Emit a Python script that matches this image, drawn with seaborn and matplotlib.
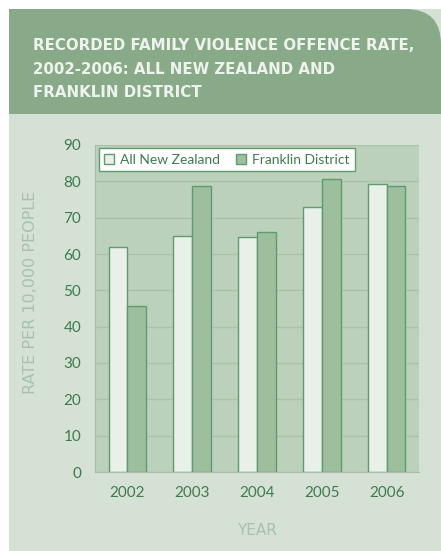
import matplotlib
matplotlib.use("Agg")
import matplotlib.pyplot as plt
from matplotlib.patches import FancyBboxPatch, Rectangle
import pandas as pd
import seaborn as sns

years = ["2002", "2003", "2004", "2005", "2006"]
all_nz = [62.0, 65.0, 64.7, 72.9, 79.3]
franklin = [45.8, 78.8, 66.1, 80.6, 78.8]
series = ["All New Zealand", "Franklin District"]

df = pd.DataFrame({
    "Year": years * 2,
    "Rate": all_nz + franklin,
    "Series": [series[0]] * len(years) + [series[1]] * len(years),
})

sns.set_style("white")
plt.rcParams["font.family"] = ["Lato", "DejaVu Sans"]

W, H = 441, 551
fig = plt.figure(figsize=(W / 100, H / 100), dpi=100)
fig.patch.set_facecolor("white")

# panel background and header band (rounded only at top right)
hdr = "#89aa89"
fig.patches.append(Rectangle((9 / W, 0), 1 - 9 / W, 1 - 9 / H, transform=fig.transFigure,
                             facecolor="#d6e1d6", edgecolor="none", zorder=-3))
fig.patches.append(FancyBboxPatch((9 / W, (H - 114) / H), (W - 9) / W, 105 / H,
                                  boxstyle="round,pad=0,rounding_size=0.08",
                                  transform=fig.transFigure, facecolor=hdr,
                                  edgecolor="none", zorder=-2, mutation_aspect=W / H))
fig.patches.append(Rectangle((9 / W, (H - 114) / H), 0.5, 105 / H, transform=fig.transFigure,
                             facecolor=hdr, edgecolor="none", zorder=-2))
fig.patches.append(Rectangle((0.5, (H - 114) / H), 0.5, 60 / H, transform=fig.transFigure,
                             facecolor=hdr, edgecolor="none", zorder=-2))

fig.text(33 / W, 1 - 38 / H, "RECORDED FAMILY VIOLENCE OFFENCE RATE,\n2002-2006: ALL NEW ZEALAND AND\nFRANKLIN DISTRICT",
         color="#eef3ee", fontsize=10.8, fontweight="bold", family=["DejaVu Sans"],
         va="top", ha="left", linespacing=1.72, zorder=3)

ax = fig.add_axes([95 / W, 1 - 472 / H, 324 / W, 327 / H])
ax.set_facecolor("#bcd1bc")

sns.barplot(data=df, x="Year", y="Rate", hue="Series", ax=ax,
            palette=["#e9f0e9", "#9dbf9d"], width=0.58, gap=0,
            edgecolor="#5f9b6c", linewidth=1.0, saturation=1)

ax.set_ylim(0, 90)
ax.set_yticks(range(0, 91, 10))
ax.yaxis.grid(True, color="#a9c2a9", linewidth=1)
ax.set_axisbelow(True)
for s in ["top", "right"]:
    ax.spines[s].set_visible(False)
ax.spines["left"].set_color("#a4bda4")
ax.spines["bottom"].set_color("#a4bda4")
ax.tick_params(axis="both", colors="#3e7a4e", labelsize=11, length=4, color="#a4bda4")
ax.tick_params(axis="x", pad=6)
ax.tick_params(axis="y", pad=6)
for lab in ax.get_xticklabels() + ax.get_yticklabels():
    lab.set_color("#3e7a4e")

ax.set_xlabel("YEAR", color="#a8c0ac", fontsize=11, family=["DejaVu Sans"])
ax.set_ylabel("RATE PER 10,000 PEOPLE", color="#a8c0ac", fontsize=11.5,
              family=["DejaVu Sans"])
ax.xaxis.set_label_coords(0.5, -0.156)
ax.yaxis.set_label_coords(-0.176, 0.55)

leg = ax.legend(loc="upper left", ncol=2, frameon=True, fontsize=10,
                bbox_to_anchor=(0.012, 0.99), borderaxespad=0, handlelength=0.7,
                handleheight=0.7, columnspacing=1.2, handletextpad=0.4,
                borderpad=0.4, fancybox=False)
leg.get_frame().set_facecolor("white")
leg.get_frame().set_edgecolor("#5f9b6c")
leg.get_frame().set_alpha(1)
for t in leg.get_texts():
    t.set_color("#3e7a4e")

fig.savefig("out.png", dpi=100, facecolor=fig.get_facecolor())
